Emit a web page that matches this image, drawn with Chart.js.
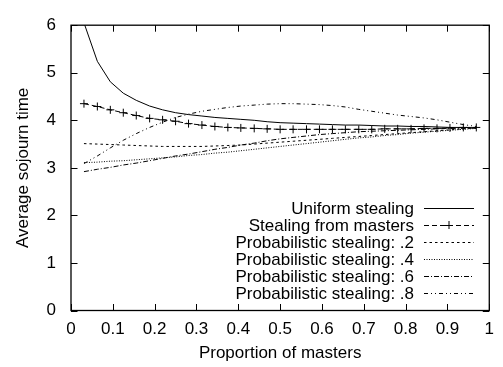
<!DOCTYPE html>
<html>
<head>
<meta charset="utf-8">
<script src="https://cdn.jsdelivr.net/npm/chart.js@4/dist/chart.umd.min.js"></script>
<style>
  html, body { margin: 0; padding: 0; background: #fff; }
  #chart { display: block; }
</style>
</head>
<body>
<canvas id="chart" width="503" height="367"></canvas>
<script>
// Proportion of masters (x values)
const masters = [0.031, 0.063, 0.094, 0.125, 0.156, 0.188, 0.219, 0.25, 0.281, 0.313,
                 0.344, 0.375, 0.406, 0.438, 0.469, 0.5, 0.531, 0.563, 0.594, 0.625,
                 0.656, 0.688, 0.719, 0.75, 0.781, 0.813, 0.844, 0.875, 0.906, 0.938, 0.969];

// Average sojourn time for each policy
const uniformStealing = [6.05, 5.24, 4.81, 4.57, 4.42, 4.30, 4.22, 4.16, 4.12, 4.09,
                         4.06, 4.04, 4.02, 4.00, 3.97, 3.95, 3.94, 3.93, 3.92, 3.91,
                         3.90, 3.90, 3.89, 3.88, 3.88, 3.87, 3.87, 3.86, 3.85, 3.85, 3.84];
const mastersStealing = [4.35, 4.29, 4.22, 4.16, 4.10, 4.04, 4.01, 3.98, 3.93, 3.90,
                         3.87, 3.85, 3.84, 3.83, 3.82, 3.81, 3.81, 3.81, 3.81, 3.81,
                         3.81, 3.81, 3.81, 3.82, 3.82, 3.82, 3.83, 3.83, 3.84, 3.85, 3.85];
const probStealing2 = [3.51, 3.50, 3.49, 3.48, 3.47, 3.46, 3.45, 3.45, 3.45, 3.45,
                       3.46, 3.47, 3.48, 3.50, 3.52, 3.54, 3.56, 3.58, 3.60, 3.62,
                       3.64, 3.66, 3.68, 3.70, 3.72, 3.74, 3.76, 3.78, 3.80, 3.82, 3.84];
const probStealing4 = [3.11, 3.12, 3.14, 3.15, 3.17, 3.19, 3.21, 3.23, 3.26, 3.28,
                       3.31, 3.33, 3.36, 3.39, 3.42, 3.45, 3.48, 3.51, 3.54, 3.57,
                       3.60, 3.63, 3.65, 3.68, 3.70, 3.73, 3.75, 3.77, 3.79, 3.81, 3.83];
const probStealing6 = [2.92, 2.97, 3.01, 3.06, 3.10, 3.15, 3.20, 3.25, 3.29, 3.34,
                       3.39, 3.43, 3.48, 3.52, 3.57, 3.61, 3.64, 3.67, 3.70, 3.72,
                       3.74, 3.76, 3.77, 3.78, 3.79, 3.80, 3.81, 3.82, 3.83, 3.83, 3.84];
const probStealing8 = [3.09, 3.25, 3.42, 3.58, 3.72, 3.85, 3.96, 4.06, 4.13, 4.19,
                       4.23, 4.27, 4.30, 4.32, 4.34, 4.35, 4.35, 4.34, 4.33, 4.31,
                       4.28, 4.23, 4.19, 4.15, 4.11, 4.08, 4.05, 4.01, 3.96, 3.91, 3.87];

// Axis ticks
const xTicks = [0, 0.1, 0.2, 0.3, 0.4, 0.5, 0.6, 0.7, 0.8, 0.9, 1];
const xTickLabels = ['0', '0.1', '0.2', '0.3', '0.4', '0.5', '0.6', '0.7', '0.8', '0.9', '1'];
const yTicks = [0, 1, 2, 3, 4, 5, 6];

const FONT = '17px "Liberation Sans", Arial, Helvetica, sans-serif';

function points(ys) {
    return masters.map((x, i) => ({ x: x, y: ys[i] }));
}

function series(label, ys, dash, extra) {
    return Object.assign({
        label: label,
        data: points(ys),
        borderColor: '#000',
        backgroundColor: '#000',
        borderWidth: 1,
        borderDash: dash,
        pointRadius: 0,
        tension: 0,
        fill: false
    }, extra || {});
}

// Cadre façon gnuplot : bordure, graduations intérieures, titres et légende
const gnuplotFrame = {
    id: 'gnuplotFrame',
    afterDraw(chart) {
        const ctx = chart.ctx;
        const a = chart.chartArea;
        const xs = chart.scales.x;
        const ys = chart.scales.y;
        const tick = 6.5;

        ctx.save();
        ctx.strokeStyle = '#000';
        ctx.lineWidth = 1.3;
        ctx.setLineDash([]);
        ctx.strokeRect(a.left, a.top, a.right - a.left, a.bottom - a.top);

        ctx.lineWidth = 1;
        ctx.beginPath();
        xTicks.forEach(v => {
            const px = Math.round(xs.getPixelForValue(v)) + 0.5;
            ctx.moveTo(px, a.bottom); ctx.lineTo(px, a.bottom - tick);
            ctx.moveTo(px, a.top); ctx.lineTo(px, a.top + tick);
        });
        yTicks.forEach(v => {
            const py = Math.round(ys.getPixelForValue(v)) + 0.5;
            ctx.moveTo(a.left, py); ctx.lineTo(a.left + tick, py);
            ctx.moveTo(a.right, py); ctx.lineTo(a.right - tick, py);
        });
        ctx.stroke();

        // Titres des axes
        ctx.fillStyle = '#000';
        ctx.font = FONT;
        ctx.textAlign = 'center';
        ctx.textBaseline = 'alphabetic';
        ctx.fillText('Proportion of masters', (a.left + a.right) / 2, 358);

        ctx.save();
        ctx.translate(28, (a.top + a.bottom) / 2);
        ctx.rotate(-Math.PI / 2);
        ctx.fillText('Average sojourn time', 0, 0);
        ctx.restore();

        // Légende
        const textRight = 414;
        const sampleLeft = 424;
        const sampleRight = 474;
        chart.data.datasets.forEach((ds, i) => {
            const base = 214 + i * 17;
            const mid = base - 6;
            ctx.textAlign = 'right';
            ctx.fillText(ds.label, textRight, base);

            ctx.beginPath();
            ctx.lineWidth = 1;
            ctx.setLineDash(ds.borderDash || []);
            ctx.moveTo(sampleLeft, mid + 0.5);
            ctx.lineTo(sampleRight, mid + 0.5);
            ctx.stroke();

            if (ds.pointStyle === 'cross') {
                const cx = (sampleLeft + sampleRight) / 2;
                ctx.setLineDash([]);
                ctx.beginPath();
                ctx.moveTo(cx - 4, mid + 0.5); ctx.lineTo(cx + 4, mid + 0.5);
                ctx.moveTo(cx, mid - 4); ctx.lineTo(cx, mid + 4);
                ctx.stroke();
            }
        });
        ctx.restore();
    }
};

const ctx = document.getElementById('chart').getContext('2d');
new Chart(ctx, {
    type: 'line',
    data: {
        datasets: [
            series('Uniform stealing', uniformStealing, []),
            series('Stealing from masters', mastersStealing, [5, 3], {
                pointStyle: 'cross', pointRadius: 4, pointBorderWidth: 1,
                pointBorderColor: '#000'
            }),
            series('Probabilistic stealing: .2', probStealing2, [2.5, 3]),
            series('Probabilistic stealing: .4', probStealing4, [1, 1.5]),
            series('Probabilistic stealing: .6', probStealing6, [5, 2, 1, 2]),
            series('Probabilistic stealing: .8', probStealing8, [4, 3, 1, 3, 1, 3])
        ]
    },
    options: {
        responsive: false,
        animation: false,
        devicePixelRatio: 1,
        layout: { padding: { top: 12, right: 8, left: 0, bottom: 0 } },
        plugins: {
            legend: { display: false },
            tooltip: { enabled: false }
        },
        scales: {
            x: {
                type: 'linear',
                min: 0,
                max: 1,
                grid: { display: false, drawTicks: false },
                border: { display: false },
                afterBuildTicks: scale => {
                    scale.ticks = xTicks.map(v => ({ value: v }));
                },
                afterFit: scale => { scale.height = 56.5; },
                ticks: {
                    color: '#000',
                    font: { family: '"Liberation Sans", Arial, sans-serif', size: 17 },
                    padding: 9,
                    maxRotation: 0,
                    autoSkip: false,
                    callback: (v, i) => xTickLabels[i]
                }
            },
            y: {
                type: 'linear',
                min: 0,
                max: 6,
                grid: { display: false, drawTicks: false },
                border: { display: false },
                afterBuildTicks: scale => {
                    scale.ticks = yTicks.map(v => ({ value: v }));
                },
                afterFit: scale => { scale.width = 71; },
                ticks: {
                    color: '#000',
                    font: { family: '"Liberation Sans", Arial, sans-serif', size: 17 },
                    padding: 15,
                    autoSkip: false,
                    callback: v => String(v)
                }
            }
        }
    },
    plugins: [gnuplotFrame]
});
</script>
</body>
</html>
